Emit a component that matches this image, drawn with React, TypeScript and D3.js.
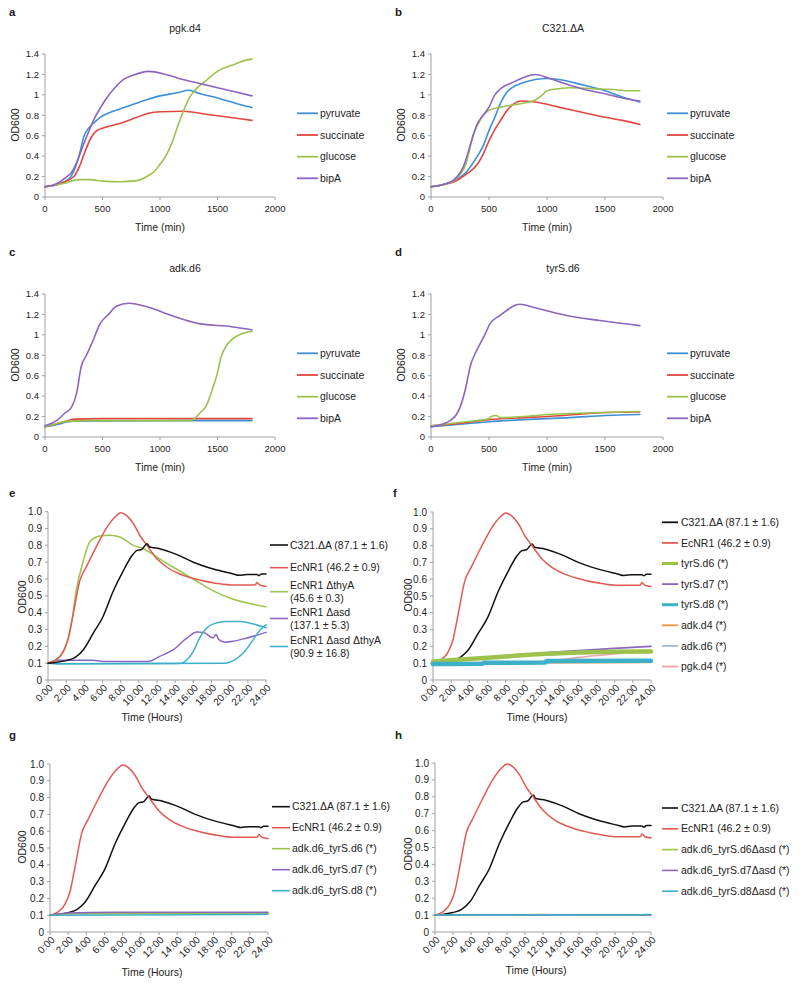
import React from 'react';
import * as d3 from 'd3';

type P = [number, number];

// ---------- Panel a: pgk.d4 (time in min) ----------
const aPyruvate: P[] = [[0,0.1],[100,0.12],[200,0.17],[250,0.25],[300,0.42],[340,0.6],[370,0.66],[420,0.72],[480,0.78],[550,0.82],[700,0.88],[850,0.94],[1000,0.99],[1150,1.02],[1250,1.045],[1350,1.01],[1500,0.97],[1650,0.92],[1800,0.875]];
const aSuccinate: P[] = [[0,0.1],[150,0.14],[250,0.2],[300,0.3],[350,0.45],[400,0.58],[450,0.65],[520,0.68],[650,0.72],[800,0.78],[900,0.82],[1000,0.835],[1200,0.84],[1400,0.81],[1600,0.78],[1800,0.75]];
const aGlucose: P[] = [[0,0.1],[150,0.13],[300,0.17],[400,0.17],[500,0.155],[650,0.15],[800,0.16],[900,0.21],[950,0.25],[1000,0.32],[1050,0.4],[1100,0.52],[1150,0.68],[1200,0.83],[1250,0.96],[1300,1.04],[1400,1.14],[1500,1.23],[1650,1.3],[1750,1.34],[1800,1.35]];
const aBipA: P[] = [[0,0.1],[100,0.13],[180,0.19],[230,0.24],[280,0.35],[330,0.5],[380,0.64],[430,0.77],[480,0.87],[530,0.96],[600,1.06],[680,1.15],[760,1.19],[900,1.23],[1050,1.2],[1200,1.15],[1350,1.11],[1500,1.07],[1650,1.03],[1800,0.99]];

// ---------- Panel b: C321.ΔA ----------
const bPyruvate: P[] = [[0,0.1],[100,0.12],[200,0.16],[300,0.24],[400,0.4],[450,0.5],[500,0.65],[550,0.78],[600,0.92],[650,1.02],[700,1.07],[800,1.12],[900,1.15],[1000,1.16],[1100,1.15],[1300,1.1],[1500,1.04],[1650,0.98],[1800,0.93]];
const bSuccinate: P[] = [[0,0.1],[100,0.12],[200,0.15],[300,0.22],[400,0.32],[450,0.42],[500,0.55],[550,0.66],[600,0.75],[650,0.84],[700,0.9],[780,0.94],[900,0.93],[1100,0.88],[1300,0.83],[1500,0.78],[1650,0.75],[1800,0.71]];
const bGlucose: P[] = [[0,0.1],[100,0.12],[200,0.16],[250,0.22],[300,0.32],[330,0.45],[360,0.6],[400,0.7],[450,0.8],[500,0.85],[600,0.88],[700,0.9],[800,0.92],[900,0.95],[960,1.0],[1000,1.04],[1100,1.06],[1200,1.07],[1400,1.06],[1600,1.05],[1700,1.04],[1800,1.04]];
const bBipA: P[] = [[0,0.1],[100,0.12],[200,0.17],[280,0.3],[350,0.55],[400,0.72],[450,0.8],[500,0.88],[550,1.0],[600,1.06],[700,1.12],[800,1.17],[900,1.2],[1000,1.17],[1100,1.13],[1300,1.06],[1500,1.01],[1650,0.97],[1800,0.94]];

// ---------- Panel c: adk.d6 ----------
const cPyruvate: P[] = [[0,0.1],[100,0.12],[200,0.15],[250,0.155],[1200,0.16],[1800,0.16]];
const cSuccinate: P[] = [[0,0.1],[100,0.13],[200,0.16],[250,0.175],[500,0.18],[1800,0.18]];
const cGlucose: P[] = [[0,0.1],[100,0.13],[200,0.155],[400,0.16],[800,0.16],[1250,0.16],[1300,0.18],[1350,0.24],[1400,0.3],[1450,0.45],[1500,0.63],[1530,0.78],[1570,0.88],[1630,0.96],[1710,1.01],[1800,1.035]];
const cBipA: P[] = [[0,0.11],[100,0.16],[170,0.23],[230,0.29],[275,0.43],[315,0.69],[360,0.8],[420,0.95],[475,1.1],[560,1.21],[620,1.28],[730,1.31],[900,1.27],[1100,1.19],[1340,1.11],[1620,1.08],[1800,1.05]];

// ---------- Panel d: tyrS.d6 ----------
const dPyruvate: P[] = [[0,0.1],[300,0.13],[500,0.15],[800,0.17],[1000,0.18],[1200,0.19],[1500,0.21],[1800,0.22]];
const dSuccinate: P[] = [[0,0.11],[300,0.14],[500,0.17],[800,0.19],[1000,0.2],[1250,0.22],[1500,0.24],[1800,0.245]];
const dGlucose: P[] = [[0,0.11],[300,0.15],[500,0.18],[520,0.2],[560,0.21],[600,0.19],[800,0.2],[1000,0.22],[1200,0.23],[1500,0.24],[1800,0.25]];
const dBipA: P[] = [[0,0.1],[110,0.13],[165,0.16],[225,0.23],[250,0.29],[295,0.46],[340,0.7],[395,0.85],[455,0.98],[510,1.11],[595,1.19],[680,1.26],[725,1.29],[770,1.3],[880,1.27],[1170,1.19],[1455,1.14],[1800,1.09]];

// ---------- Panels e–h (time in hours) ----------
const c321: P[] = [[0,0.1],[1,0.105],[2,0.115],[3,0.135],[3.9,0.18],[5,0.28],[6,0.37],[7.2,0.53],[8.3,0.65],[9.2,0.735],[9.8,0.77],[10.3,0.775],[10.9,0.81],[11.2,0.79],[12.3,0.78],[14.2,0.745],[16,0.7],[18.2,0.66],[20.4,0.63],[21,0.622],[21.9,0.627],[23,0.627],[23.2,0.62],[23.5,0.63],[24,0.63]];
const ecNR1: P[] = [[0,0.1],[0.9,0.12],[1.7,0.17],[2.2,0.24],[2.8,0.4],[3.5,0.59],[4.2,0.67],[5.3,0.79],[6.4,0.9],[7.4,0.97],[8,0.994],[8.6,0.98],[9.4,0.93],[10.1,0.86],[10.9,0.8],[12,0.72],[13.1,0.67],[14.5,0.63],[16.7,0.594],[18.6,0.574],[20.4,0.564],[22.8,0.564],[23,0.58],[23.3,0.565],[24,0.556]];
const eThyA: P[] = [[0,0.1],[1.3,0.14],[2,0.21],[2.6,0.34],[3.1,0.53],[3.9,0.71],[4.6,0.82],[5.7,0.855],[6.8,0.86],[7.9,0.85],[9.4,0.8],[10.5,0.78],[12,0.73],[13.8,0.67],[16,0.6],[18.2,0.53],[20.4,0.48],[22.6,0.45],[24,0.435]];
const eAsd: P[] = [[0,0.1],[1,0.118],[5,0.118],[6,0.11],[11,0.11],[12.3,0.14],[13.8,0.18],[15.3,0.25],[16.4,0.285],[17.1,0.283],[18.2,0.25],[18.5,0.27],[18.8,0.24],[19.5,0.225],[20.4,0.23],[21.9,0.25],[24,0.283]];
const eAsdThyA1: P[] = [[0,0.1],[2,0.097],[14.5,0.098],[15.3,0.12],[16,0.17],[16.7,0.25],[17.5,0.31],[18.6,0.34],[19.7,0.348],[21.2,0.348],[22.6,0.333],[24,0.31]];
const eAsdThyA2: P[] = [[0,0.1],[2,0.097],[19.5,0.1],[20.4,0.115],[21.5,0.16],[22.6,0.24],[23.4,0.3],[24,0.328]];

const fTyrS6: P[] = [[0,0.11],[4,0.125],[8,0.14],[12,0.155],[16,0.163],[20,0.168],[24,0.17]];
const fTyrS7: P[] = [[0,0.11],[4,0.125],[8,0.145],[12,0.16],[16,0.175],[20,0.188],[24,0.2]];
const fTyrS8: P[] = [[0,0.095],[5.5,0.097],[5.6,0.102],[12.4,0.104],[12.5,0.113],[24,0.115]];
const fAdk4: P[] = [[0,0.1],[24,0.105]];
const fAdk6: P[] = [[0,0.1],[12,0.105],[24,0.11]];
const fPgk4: P[] = [[0,0.1],[6,0.105],[12,0.11],[14,0.12],[17,0.14],[20,0.155],[24,0.175]];

const gD6: P[] = [[0,0.1],[3,0.108],[24,0.112]];
const gD7: P[] = [[0,0.1],[2,0.113],[7,0.117],[24,0.118]];
const gD8: P[] = [[0,0.1],[24,0.105]];

const hD6: P[] = [[0,0.1],[8,0.102],[12,0.103],[16,0.1],[24,0.1]];
const hD7: P[] = [[0,0.1],[24,0.1]];
const hD8: P[] = [[0,0.1],[23,0.1],[23.1,0.104],[24,0.104]];

// ---------- ticks & labels ----------
const minTicks = [0, 500, 1000, 1500, 2000];
const odTicksTop = [0, 0.2, 0.4, 0.6, 0.8, 1, 1.2, 1.4];
const hourTicks = [0, 2, 4, 6, 8, 10, 12, 14, 16, 18, 20, 22, 24];
const odTicksBottom = [0, 0.1, 0.2, 0.3, 0.4, 0.5, 0.6, 0.7, 0.8, 0.9, 1.0];
const carbonLabels = ['pyruvate', 'succinate', 'glucose', 'bipA'];
const eLabels = [['C321.ΔA (87.1 ± 1.6)'], ['EcNR1 (46.2 ± 0.9)'], ['EcNR1 ΔthyA', '(45.6 ± 0.3)'], ['EcNR1 Δasd', '(137.1 ± 5.3)'], ['EcNR1 Δasd ΔthyA', '(90.9 ± 16.8)']];
const fLabels = ['C321.ΔA (87.1 ± 1.6)', 'EcNR1 (46.2 ± 0.9)', 'tyrS.d6 (*)', 'tyrS.d7 (*)', 'tyrS.d8 (*)', 'adk.d4 (*)', 'adk.d6 (*)', 'pgk.d4 (*)'];
const gLabels = ['C321.ΔA (87.1 ± 1.6)', 'EcNR1 (46.2 ± 0.9)', 'adk.d6_tyrS.d6 (*)', 'adk.d6_tyrS.d7 (*)', 'adk.d6_tyrS.d8 (*)'];
const hLabels = ['C321.ΔA (87.1 ± 1.6)', 'EcNR1 (46.2 ± 0.9)', 'adk.d6_tyrS.d6Δasd (*)', 'adk.d6_tyrS.d7Δasd (*)', 'adk.d6_tyrS.d8Δasd (*)'];

// ---------- styles ----------
const FONT = "'Liberation Sans', Arial, Helvetica, sans-serif";
const AXIS = '#a0a0a0';
const BLUE = '#3f8fd6';
const RED = '#e0473f';
const GREEN = '#9cc24c';
const PURPLE = '#8a66c0';
const CYAN = '#3cb0c8';
const BLACK = '#111111';
const RED2 = '#e05a52';
const ORANGE = '#f3953e';
const LIGHTBLUE = '#9bb7e2';
const PINK = '#eea3aa';

interface Series { data: P[]; color: string; width: number }
interface LegendItem { lines: string[]; color: string; width: number; y: number }
interface PanelProps {
  box: { left: number; right: number; top: number; bottom: number };
  xDomain: [number, number];
  yDomain: [number, number];
  xTicks: number[];
  yTicks: number[];
  xFmt: (v: number) => string;
  yFmt: (v: number) => string;
  rotate: boolean;
  series: Series[];
  legend: LegendItem[];
  legendX: [number, number, number];
  letter: string;
  letterPos: [number, number];
  title?: string;
  titlePos?: [number, number];
  xTitle: string;
  xTitlePos: [number, number];
  yTitlePos: [number, number];
  tickFont: number;
}

function Panel(p: PanelProps) {
  const x = d3.scaleLinear().domain(p.xDomain).range([p.box.left, p.box.right]);
  const y = d3.scaleLinear().domain(p.yDomain).range([p.box.bottom, p.box.top]);
  const line = d3.line<P>().x(d => x(d[0])).y(d => y(d[1])).curve(d3.curveMonotoneX);
  const { left, right, top, bottom } = p.box;
  return (
    <g fontFamily={FONT} fill="#222">
      <text x={p.letterPos[0]} y={p.letterPos[1]} fontSize={11.5} fontWeight="bold">{p.letter}</text>
      {p.title && p.titlePos && (
        <text x={p.titlePos[0]} y={p.titlePos[1]} fontSize={10.5} textAnchor="middle">{p.title}</text>
      )}
      {/* axes */}
      <line x1={left} x2={left} y1={top} y2={bottom} stroke={AXIS} strokeWidth={1} />
      <line x1={left} x2={right} y1={bottom} y2={bottom} stroke={AXIS} strokeWidth={1} />
      {p.yTicks.map(t => (
        <g key={'y' + t}>
          <line x1={left - 3} x2={left} y1={y(t)} y2={y(t)} stroke={AXIS} />
          <text x={left - 6} y={y(t)} dy="0.35em" textAnchor="end" fontSize={p.tickFont}>{p.yFmt(t)}</text>
        </g>
      ))}
      {p.xTicks.map(t => (
        <g key={'x' + t}>
          <line x1={x(t)} x2={x(t)} y1={bottom} y2={bottom + 3} stroke={AXIS} />
          {p.rotate ? (
            <text transform={`translate(${x(t) + 3},${bottom + 6}) rotate(-45)`} dy="0.35em" textAnchor="end" fontSize={p.tickFont}>{p.xFmt(t)}</text>
          ) : (
            <text x={x(t)} y={bottom + 15} textAnchor="middle" fontSize={p.tickFont}>{p.xFmt(t)}</text>
          )}
        </g>
      ))}
      <text x={p.xTitlePos[0]} y={p.xTitlePos[1]} textAnchor="middle" fontSize={10.5}>{p.xTitle}</text>
      <text transform={`translate(${p.yTitlePos[0]},${p.yTitlePos[1]}) rotate(-90)`} dy="0.35em" textAnchor="middle" fontSize={10.5}>OD600</text>
      {/* series */}
      {p.series.map((s, i) => (
        <path key={'s' + i} d={line(s.data) || ''} fill="none" stroke={s.color} strokeWidth={s.width} strokeLinejoin="round" strokeLinecap="round" />
      ))}
      {/* legend */}
      {p.legend.map((l, i) => (
        <g key={'l' + i}>
          <line x1={p.legendX[0]} x2={p.legendX[1]} y1={l.y} y2={l.y} stroke={l.color} strokeWidth={l.width} />
          {l.lines.map((t, j) => (
            <text key={j} x={p.legendX[2]} y={l.y + (j - (l.lines.length - 1) / 2) * 13.3} dy="0.35em" fontSize={10.5}>{t}</text>
          ))}
        </g>
      ))}
    </g>
  );
}

const fmtTopY = (v: number) => (v === 0 ? '0' : Number.isInteger(v) ? String(v) : v.toFixed(1));
const fmtBotY = (v: number) => (v === 0 ? '0' : v.toFixed(1));
const fmtMin = (v: number) => String(v);
const fmtHour = (v: number) => `${v}:00`;

const carbonColors = [BLUE, RED, GREEN, PURPLE];

function topPanel(letter: string, title: string, data: P[][], col: number, row: number): PanelProps {
  const dx = col === 0 ? 0 : 386;
  const dy = row === 0 ? 0 : 240;
  const left = col === 0 ? 45 : 431;
  const right = col === 0 ? 275 : 663;
  const lx = col === 0 ? 297 : 667;
  const legendYs = [113.3, 135, 156.7, 178.3];
  return {
    box: { left, right, top: 54 + dy, bottom: 197 + dy },
    xDomain: [0, 2000], yDomain: [0, 1.4],
    xTicks: minTicks, yTicks: odTicksTop, xFmt: fmtMin, yFmt: fmtTopY, rotate: false,
    series: data.map((d, i) => ({ data: d, color: carbonColors[i], width: 1.6 })),
    legend: carbonLabels.map((lab, i) => ({ lines: [lab], color: carbonColors[i], width: 1.8, y: legendYs[i] + dy })),
    legendX: [lx, lx + 21, lx + 23],
    letter, letterPos: [col === 0 ? 9 : 395, 15.5 + dy],
    title, titlePos: [col === 0 ? 185 : 563, 32 + dy],
    xTitle: 'Time (min)', xTitlePos: [(left + right) / 2, 231 + dy],
    yTitlePos: [left - 30, 125 + dy],
    tickFont: 9.5,
  };
  void dx;
}

const panels: PanelProps[] = [
  topPanel('a', 'pgk.d4', [aPyruvate, aSuccinate, aGlucose, aBipA], 0, 0),
  topPanel('b', 'C321.ΔA', [bPyruvate, bSuccinate, bGlucose, bBipA], 1, 0),
  topPanel('c', 'adk.d6', [cPyruvate, cSuccinate, cGlucose, cBipA], 0, 1),
  topPanel('d', 'tyrS.d6', [dPyruvate, dSuccinate, dGlucose, dBipA], 1, 1),
  {
    box: { left: 48, right: 266, top: 511.7, bottom: 680 },
    xDomain: [0, 24], yDomain: [0, 1],
    xTicks: hourTicks, yTicks: odTicksBottom, xFmt: fmtHour, yFmt: fmtBotY, rotate: true,
    series: [
      { data: eAsd, color: PURPLE, width: 1.5 },
      { data: eAsdThyA1, color: CYAN, width: 1.5 },
      { data: eAsdThyA2, color: CYAN, width: 1.5 },
      { data: eThyA, color: GREEN, width: 1.5 },
      { data: ecNR1, color: RED2, width: 1.5 },
      { data: c321, color: BLACK, width: 1.5 },
    ],
    legend: [
      { lines: eLabels[0], color: BLACK, width: 1.6, y: 545 },
      { lines: eLabels[1], color: RED2, width: 1.6, y: 567.7 },
      { lines: eLabels[2], color: GREEN, width: 1.6, y: 591.7 },
      { lines: eLabels[3], color: PURPLE, width: 1.6, y: 618.5 },
      { lines: eLabels[4], color: CYAN, width: 1.6, y: 646.5 },
    ],
    legendX: [270, 288, 290],
    letter: 'e', letterPos: [9, 497],
    xTitle: 'Time (Hours)', xTitlePos: [152, 721], yTitlePos: [22, 597], tickFont: 10,
  },
  {
    box: { left: 433, right: 651, top: 512, bottom: 680 },
    xDomain: [0, 24], yDomain: [0, 1],
    xTicks: hourTicks, yTicks: odTicksBottom, xFmt: fmtHour, yFmt: fmtBotY, rotate: true,
    series: [
      { data: c321, color: BLACK, width: 1.5 },
      { data: ecNR1, color: RED2, width: 1.5 },
      { data: fAdk4, color: ORANGE, width: 1.6 },
      { data: fAdk6, color: LIGHTBLUE, width: 1.6 },
      { data: fPgk4, color: PINK, width: 1.6 },
      { data: fTyrS7, color: PURPLE, width: 1.8 },
      { data: fTyrS6, color: GREEN, width: 4.5 },
      { data: fTyrS8, color: CYAN, width: 4.5 },
    ],
    legend: fLabels.map((lab, i) => ({
      lines: [lab],
      color: [BLACK, RED2, GREEN, PURPLE, CYAN, ORANGE, LIGHTBLUE, PINK][i],
      width: i === 2 || i === 4 ? 3 : 1.8,
      y: 522.3 + i * 20.6,
    })),
    legendX: [662, 678, 681],
    letter: 'f', letterPos: [393, 497],
    xTitle: 'Time (Hours)', xTitlePos: [537, 721], yTitlePos: [408, 595], tickFont: 10,
  },
  {
    box: { left: 50, right: 268, top: 764, bottom: 932 },
    xDomain: [0, 24], yDomain: [0, 1],
    xTicks: hourTicks, yTicks: odTicksBottom, xFmt: fmtHour, yFmt: fmtBotY, rotate: true,
    series: [
      { data: c321, color: BLACK, width: 1.5 },
      { data: ecNR1, color: RED2, width: 1.5 },
      { data: gD6, color: GREEN, width: 1.5 },
      { data: gD7, color: PURPLE, width: 1.5 },
      { data: gD8, color: CYAN, width: 1.5 },
    ],
    legend: gLabels.map((lab, i) => ({
      lines: [lab], color: [BLACK, RED2, GREEN, PURPLE, CYAN][i], width: 1.6, y: 806.7 + i * 21,
    })),
    legendX: [272, 290, 292],
    letter: 'g', letterPos: [9, 739],
    xTitle: 'Time (Hours)', xTitlePos: [152, 976], yTitlePos: [22, 847], tickFont: 10,
  },
  {
    box: { left: 435, right: 651, top: 763, bottom: 932 },
    xDomain: [0, 24], yDomain: [0, 1],
    xTicks: hourTicks, yTicks: odTicksBottom, xFmt: fmtHour, yFmt: fmtBotY, rotate: true,
    series: [
      { data: c321, color: BLACK, width: 1.5 },
      { data: ecNR1, color: RED2, width: 1.5 },
      { data: hD6, color: GREEN, width: 1.5 },
      { data: hD7, color: PURPLE, width: 1.5 },
      { data: hD8, color: CYAN, width: 1.5 },
    ],
    legend: hLabels.map((lab, i) => ({
      lines: [lab], color: [BLACK, RED2, GREEN, PURPLE, CYAN][i], width: 1.6, y: 808 + i * 20.8,
    })),
    legendX: [662, 678, 681],
    letter: 'h', letterPos: [395, 739],
    xTitle: 'Time (Hours)', xTitlePos: [536, 974], yTitlePos: [408, 854], tickFont: 10,
  },
];

export default function App() {
  return (
    <svg width={800} height={988} style={{ position: 'absolute', left: 0, top: 0, background: '#fff' }}>
      <rect width={800} height={988} fill="#fff" />
      {panels.map((p, i) => <Panel key={i} {...p} />)}
    </svg>
  );
}
